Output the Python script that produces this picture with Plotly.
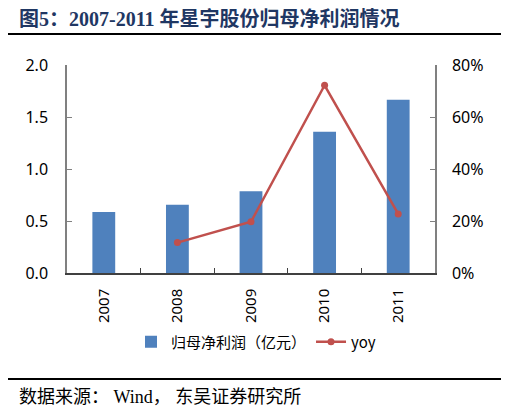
import plotly.graph_objects as go

# Daten
years = ["2007", "2008", "2009", "2010", "2011"]
profit = [0.586, 0.656, 0.786, 1.358, 1.667]   # 归母净利润（亿元）
yoy = [None, 0.117, 0.197, 0.722, 0.227]        # yoy
left_ticks = [0, 0.5, 1.0, 1.5, 2.0]
right_ticks = [0, 0.2, 0.4, 0.6, 0.8]

# Seite hat 8px Rand im Browser -> Figur entsprechend kleiner
OFF = 8
W, H = 509 - OFF, 413 - OFF
L, T = 67 - OFF, 65 - OFF
R = W - (435 - OFF)
B = H - (273 - OFF)
pw, ph = W - L - R, H - T - B


def px_x(px):
    # Pixel im Referenzbild -> Papierkoordinate
    return (max(px - OFF, 0) - L) / pw


def px_y(py):
    return (H - B - (py - OFF)) / ph


fig = go.Figure()

fig.add_trace(go.Bar(
    x=years, y=profit, name="归母净利润（亿元）",
    marker=dict(color="#4F81BD", line=dict(width=0)),
    width=0.31,
))
fig.add_trace(go.Scatter(
    x=years, y=yoy, name="yoy", yaxis="y2",
    mode="lines+markers",
    line=dict(color="#C0504D", width=2.5),
    marker=dict(color="#C0504D", size=7),
))

tick_font = dict(family="Noto Sans, DejaVu Sans", size=16, color="#000000")

fig.update_layout(
    width=W, height=H,
    margin=dict(l=L, r=R, t=T, b=B),
    paper_bgcolor="white", plot_bgcolor="white",
    showlegend=True,
    legend=dict(
        orientation="h", x=px_x(256), y=px_y(342),
        xanchor="center", yanchor="middle",
        font=dict(family="Noto Sans CJK SC", size=15, color="#000000"),
        itemwidth=30, tracegroupgap=0,
    ),
    xaxis=dict(
        type="category", tickangle=-90,
        showline=True, linecolor="#404040", linewidth=1.5,
        ticks="inside", tickson="boundaries", ticklen=5, tickcolor="#404040",
        tickfont=dict(family="Noto Sans, DejaVu Sans", size=15, color="#000000"),
        showgrid=False, ticklabelstandoff=8,
    ),
    yaxis=dict(
        range=[0, 2.0], tickvals=left_ticks, tickformat=".1f",
        showline=True, linecolor="#808080", linewidth=1.5,
        ticks="inside", ticklen=5, tickcolor="#808080",
        tickfont=tick_font, showgrid=False, zeroline=False,
        ticklabelstandoff=14,
    ),
    yaxis2=dict(
        range=[0, 0.8], tickvals=right_ticks, tickformat=".0%",
        overlaying="y", side="right",
        showline=True, linecolor="#808080", linewidth=1.5,
        ticks="inside", ticklen=5, tickcolor="#808080",
        tickfont=tick_font, showgrid=False, zeroline=False,
        ticklabelstandoff=12,
    ),
)

# Titel, Trennlinien und Quelle
fig.add_annotation(
    text="<b>图5：2007-2011 年星宇股份归母净利润情况</b>",
    xref="paper", yref="paper", x=px_x(17), y=px_y(19),
    xanchor="left", yanchor="middle", showarrow=False,
    font=dict(family="Liberation Serif, Noto Sans CJK SC", size=20, color="#1F3763"),
)
fig.add_shape(type="line", xref="paper", yref="paper",
              x0=px_x(5), x1=px_x(503), y0=px_y(34), y1=px_y(34),
              line=dict(color="#000000", width=2))
fig.add_shape(type="line", xref="paper", yref="paper",
              x0=px_x(5), x1=px_x(503), y0=px_y(379), y1=px_y(379),
              line=dict(color="#000000", width=2))
fig.add_annotation(
    text="数据来源： Wind， 东吴证券研究所",
    xref="paper", yref="paper", x=px_x(17), y=px_y(397),
    xanchor="left", yanchor="middle", showarrow=False,
    font=dict(family="Liberation Serif, Noto Sans CJK SC", size=18, color="#000000"),
)

fig.write_html("out.html")
